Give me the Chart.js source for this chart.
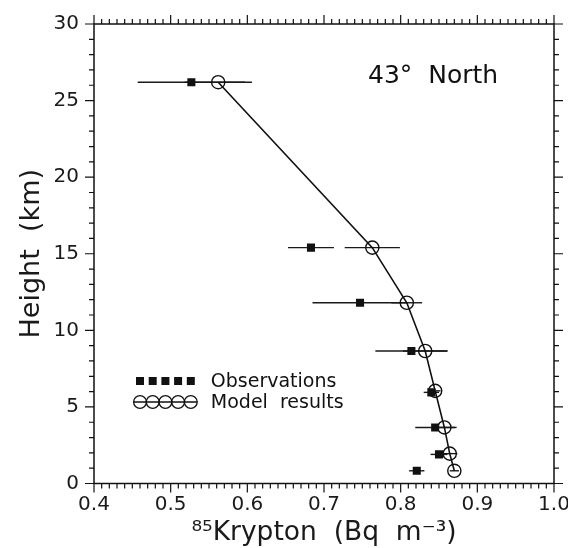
<!DOCTYPE html>
<html><head><meta charset="utf-8">
<script src="https://cdn.jsdelivr.net/npm/chart.js@4/dist/chart.umd.min.js"></script>
<style>html,body{margin:0;padding:0;background:#fff;}canvas{display:block;}</style>
</head><body>
<canvas id="c" width="568" height="548"></canvas>
<script>
// ---- data ----
const obsHeight   = [26.2, 15.4, 11.8, 8.65, 5.95, 3.66, 1.9, 0.83];
const obsValue    = [0.527, 0.683, 0.747, 0.814, 0.840, 0.845, 0.850, 0.821];
const obsError    = [0.070, 0.030, 0.062, 0.047, 0.010, 0.026, 0.011, 0.010];
const modelHeight = [26.2, 15.4, 11.8, 8.65, 6.05, 3.66, 1.95, 0.83];
const modelValue  = [0.562, 0.763, 0.808, 0.832, 0.845, 0.857, 0.864, 0.870];
const modelError  = [0.044, 0.036, 0.020, 0.029, 0.007, 0.016, 0.010, 0.006];
const xMajorLabels = ['0.4','0.5','0.6','0.7','0.8','0.9','1.0'];
const yMajorLabels = ['0','5','10','15','20','25','30'];
const panelTitle = '43°  North';
const legendNames = ['Observations', 'Model  results'];

const FONT = 'DejaVu Sans';
const INK = '#111';

const deco = {
  id: 'deco',
  beforeDraw(chart) {
    const c = chart.ctx; c.save(); c.fillStyle = '#fff';
    c.fillRect(0, 0, chart.width, chart.height); c.restore();
  },
  beforeDatasetsDraw(chart) {
    const {ctx, scales: {x, y}} = chart;
    ctx.save(); ctx.strokeStyle = '#1a1a1a'; ctx.lineWidth = 1.4;
    const bar = (v, e, h) => {
      const yy = y.getPixelForValue(h);
      ctx.beginPath();
      ctx.moveTo(x.getPixelForValue(v - e), yy);
      ctx.lineTo(x.getPixelForValue(v + e), yy);
      ctx.stroke();
    };
    obsValue.forEach((v, i) => bar(v, obsError[i], obsHeight[i]));
    modelValue.forEach((v, i) => bar(v, modelError[i], modelHeight[i]));
    ctx.restore();
  },
  afterDraw(chart) {
    const {ctx, chartArea: a, scales: {x, y}} = chart;
    ctx.save();
    ctx.strokeStyle = INK; ctx.lineWidth = 1.5;
    ctx.strokeRect(a.left, a.top, a.right - a.left, a.bottom - a.top);
    ctx.lineWidth = 1.2;
    ctx.beginPath();
    for (let i = 0; i <= 60; i++) {
      const px = x.getPixelForValue(0.4 + i * 0.01);
      const len = (i % 10 === 0) ? 9 : 5;
      ctx.moveTo(px, a.bottom); ctx.lineTo(px, a.bottom + len);
      ctx.moveTo(px, a.top); ctx.lineTo(px, a.top - len);
    }
    for (let j = 0; j <= 30; j++) {
      const py = y.getPixelForValue(j);
      const len = (j % 5 === 0) ? 9 : 5;
      ctx.moveTo(a.left, py); ctx.lineTo(a.left - len, py);
      ctx.moveTo(a.right, py); ctx.lineTo(a.right + len, py);
    }
    ctx.stroke();

    // panel title
    ctx.fillStyle = INK;
    ctx.font = '25px "' + FONT + '"';
    ctx.textBaseline = 'middle'; ctx.textAlign = 'left';
    ctx.fillText(panelTitle, a.left + 274, a.top + 52);

    // legend
    const lx = a.left + 46, ly1 = a.top + 357, ly2 = a.top + 378;
    const gap = 12.7;
    for (let k = 0; k < 5; k++) {
      const cx = lx + k * gap;
      ctx.fillRect(cx - 4, ly1 - 4, 8, 8);
    }
    ctx.lineWidth = 1.3;
    ctx.beginPath(); ctx.moveTo(lx - 6.5, ly2); ctx.lineTo(lx + 4 * gap + 6.5, ly2); ctx.stroke();
    for (let k = 0; k < 5; k++) {
      const cx = lx + k * gap;
      ctx.beginPath(); ctx.arc(cx, ly2, 6.4, 0, Math.PI * 2); ctx.stroke();
    }
    ctx.font = '19px "' + FONT + '"';
    ctx.fillText(legendNames[0], lx + 4 * gap + 20, ly1 + 1);
    ctx.fillText(legendNames[1], lx + 4 * gap + 20, ly2 + 1);
    ctx.restore();
  }
};

new Chart(document.getElementById('c'), {
  type: 'scatter',
  data: {
    datasets: [
      {
        label: legendNames[1],
        data: modelValue.map((v, i) => ({x: v, y: modelHeight[i]})),
        showLine: true, borderColor: INK, borderWidth: 1.6,
        pointStyle: 'circle', pointRadius: 6.6, pointBorderWidth: 1.4,
        pointBackgroundColor: 'rgba(0,0,0,0)', pointBorderColor: INK
      },
      {
        label: legendNames[0],
        data: obsValue.map((v, i) => ({x: v, y: obsHeight[i]})),
        showLine: false,
        pointStyle: 'rect', pointRadius: 5.7, pointBorderWidth: 0,
        pointBackgroundColor: INK, pointBorderColor: INK
      }
    ]
  },
  options: {
    responsive: false, animation: false, devicePixelRatio: 1,
    layout: {padding: {top: 24, right: 14, left: 0, bottom: 0}},
    plugins: {legend: {display: false}, tooltip: {enabled: false}},
    scales: {
      x: {
        type: 'linear', min: 0.4, max: 1.0,
        grid: {display: false, drawTicks: true, tickLength: 6},
        border: {display: false},
        ticks: {
          stepSize: 0.01, autoSkip: false, maxRotation: 0, padding: 3,
          color: '#1a1a1a', font: {family: FONT, size: 20},
          callback: (v) => { const r = Math.round(v * 100); return r % 10 === 0 ? xMajorLabels[(r - 40) / 10] : ''; }
        },
        title: {display: true, text: '⁸⁵Krypton  (Bq  m⁻³)', color: '#1a1a1a',
                font: {family: FONT, size: 26.5}, padding: {top: 0, bottom: -1}},
        afterFit: (s) => { s.height = 64.5; s.paddingLeft = 0; s.paddingRight = 0; }
      },
      y: {
        type: 'linear', min: 0, max: 30,
        grid: {display: false, drawTicks: true, tickLength: 9},
        border: {display: false},
        ticks: {
          stepSize: 1, autoSkip: false, padding: 6,
          color: '#1a1a1a', font: {family: FONT, size: 20},
          callback: (v) => (v % 5 === 0 ? yMajorLabels[v / 5] : '')
        },
        title: {display: true, text: 'Height  (km)', color: '#1a1a1a',
                font: {family: FONT, size: 27}, padding: {top: 16, bottom: 0}},
        afterFit: (s) => { s.width = 94; s.paddingTop = 0; s.paddingBottom = 0; }
      }
    }
  },
  plugins: [deco]
});
</script>
</body></html>
